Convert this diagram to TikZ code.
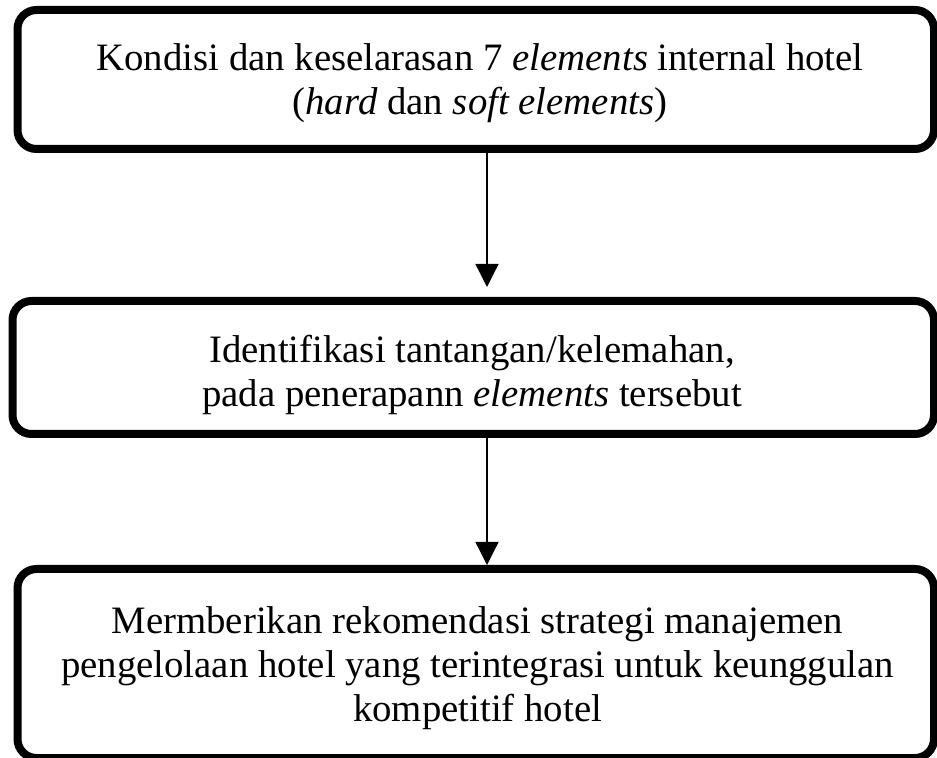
\documentclass[tikz,border=0pt]{standalone}
\usepackage{fontspec}
\setmainfont{Liberation Serif}
\usetikzlibrary{arrows.meta}

\tikzset{
    kotak/.style={
        draw,
        rectangle,
        line width=4pt,
        rounded corners=9.5pt,
        inner sep=0pt
    },
    teks/.style={
        align=center,
        anchor=base,
        font=\fontsize{19.4}{22}\selectfont
    },
    panah/.style={
        -{Triangle[width=11.5pt,length=11.5pt]},
        line width=0.65pt
    }
}

\begin{document}
\begin{tikzpicture}[x=0.5pt, y=-0.5pt]

\useasboundingbox (0,0) rectangle (937,758);

% ---------------- KOTAK ----------------

\node[
    kotak,
    minimum width=458.25pt,
    minimum height=69.5pt
] (kondisi) at (475.75,79.5) {};

\node[
    kotak,
    minimum width=460.75pt,
    minimum height=66.5pt
] (identifikasi) at (473.25,367.5) {};

\node[
    kotak,
    minimum width=458.25pt,
    minimum height=94.5pt
] (rekomendasi) at (475.75,663.5) {};


% ---------------- TEKS ----------------

% base = garis dasar baris terakhir
\node[teks] (teksKondisi) at (480,115)
    {Kondisi dan keselarasan 7 \textit{elements} internal hotel\\
     (\textit{hard} dan \textit{soft elements})};

\node[teks] (teksIdentifikasi) at (472,407)
    {Identifikasi tantangan/kelemahan,\\
     pada penerapann \textit{elements} tersebut};

\node[teks] (teksRekomendasi) at (477.5,721)
    {Mermberikan rekomendasi strategi manajemen\\
     pengelolaan hotel yang terintegrasi untuk keunggulan\\
     kompetitif hotel};


% ---------------- PANAH ----------------

\coordinate (sumbu) at (487,0);

\draw[panah, shorten >=5pt]
    (kondisi.south -| sumbu) -- (identifikasi.north -| sumbu);

\draw[panah]
    (identifikasi.south -| sumbu) -- (rekomendasi.north -| sumbu);

\end{tikzpicture}
\end{document}
